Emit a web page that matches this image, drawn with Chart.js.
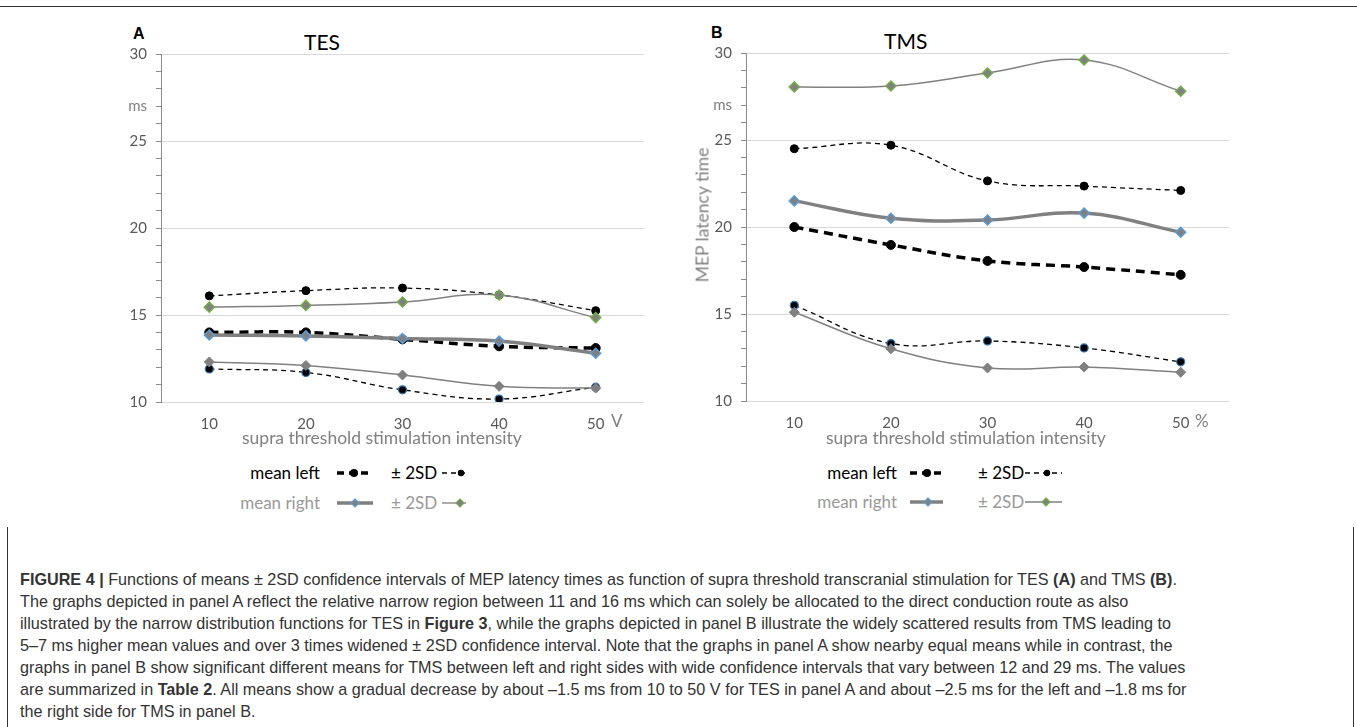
<!DOCTYPE html>
<html>
<head>
<meta charset="utf-8">
<script src="https://cdn.jsdelivr.net/npm/chart.js@4.4.0/dist/chart.umd.min.js"></script>
<style>
  body { margin: 0; width: 1357px; height: 727px; background: #fff; position: relative; overflow: hidden; font-family: Lato, sans-serif; }
  .abs { position: absolute; white-space: nowrap; }
  .panel { font-family: "Liberation Sans", Arial, sans-serif; font-weight: bold; font-size: 16px; color: #000; }
  .title { font-size: 21px; color: #000; }
  .axt { font-size: 17.5px; color: #808080; }
  .unit { font-size: 17px; color: #808080; }
  .lg { font-size: 17px; line-height: 20px; }
  .lg.dark { color: #000; }
  .lg.light { color: #999; }
  #caption { position: absolute; left: 20px; top: 568px; font-family: "Liberation Sans", Arial, sans-serif; font-size: 16.2px; line-height: 22px; color: #333; white-space: nowrap; }
  .rule { position: absolute; background: #333; }
</style>
</head>
<body>
<div class="rule" style="left:0; top:6px; width:1357px; height:1px;"></div>
<div class="rule" style="left:7px; top:527px; width:1px; height:200px;"></div>
<div class="rule" style="left:1353px; top:527px; width:1px; height:200px;"></div>

<div class="abs panel" style="left:133px; top:25px;">A</div>
<div class="abs title" style="left:304px; top:29px;">TES</div>
<div class="abs panel" style="left:711px; top:24px;">B</div>
<div class="abs title" style="left:884px; top:28px;">TMS</div>

<canvas id="tesChart" class="abs" style="left:90px; top:20px;" width="570" height="430"></canvas>
<canvas id="tmsChart" class="abs" style="left:670px; top:20px;" width="575" height="430"></canvas>

<div class="abs axt" style="left:242px; top:427px;">supra threshold stimulation intensity</div>
<div class="abs axt" style="left:826px; top:427px;">supra threshold stimulation intensity</div>
<div class="abs unit" style="left:611px; top:410px;">V</div>
<div class="abs unit" style="left:1195px; top:410px;">%</div>
<div class="abs axt" style="left:702px; top:215px; transform: translate(-50%, -50%) rotate(-90deg);">MEP latency time</div>

<div id="legends"></div>

<div id="caption">
  <div><b>FIGURE 4 |</b> Functions of means ± 2SD confidence intervals of MEP latency times as function of supra threshold transcranial stimulation for TES <b>(A)</b> and TMS <b>(B)</b>.</div>
  <div>The graphs depicted in panel A reflect the relative narrow region between 11 and 16 ms which can solely be allocated to the direct conduction route as also</div>
  <div>illustrated by the narrow distribution functions for TES in <b>Figure 3</b>, while the graphs depicted in panel B illustrate the widely scattered results from TMS leading to</div>
  <div>5–7 ms higher mean values and over 3 times widened ± 2SD confidence interval. Note that the graphs in panel A show nearby equal means while in contrast, the</div>
  <div>graphs in panel B show significant different means for TMS between left and right sides with wide confidence intervals that vary between 12 and 29 ms. The values</div>
  <div>are summarized in <b>Table 2</b>. All means show a gradual decrease by about –1.5 ms from 10 to 50 V for TES in panel A and about –2.5 ms for the left and –1.8 ms for</div>
  <div>the right side for TMS in panel B.</div>
</div>

<script>
const intensities = ["10", "20", "30", "40", "50"];

// TES (panel A), ms
const tesMeanLeft = [14.0, 14.0, 13.6, 13.2, 13.1];
const tesMeanRight = [13.85, 13.8, 13.65, 13.5, 12.8];
const tesUpperLeft = [16.1, 16.4, 16.55, 16.15, 15.25];
const tesLowerLeft = [11.9, 11.7, 10.7, 10.17, 10.85];
const tesUpperRight = [15.45, 15.55, 15.75, 16.15, 14.85];
const tesLowerRight = [12.3, 12.1, 11.55, 10.9, 10.8];

// TMS (panel B), ms
const tmsMeanLeft = [20.0, 18.97, 18.05, 17.7, 17.25];
const tmsMeanRight = [21.5, 20.5, 20.4, 20.8, 19.7];
const tmsUpperLeft = [24.5, 24.7, 22.65, 22.35, 22.1];
const tmsLowerLeft = [15.5, 13.3, 13.45, 13.05, 12.25];
const tmsUpperRight = [28.05, 28.1, 28.85, 29.6, 27.8];
const tmsLowerRight = [15.1, 13.0, 11.9, 11.95, 11.65];

const yMin = 10, yMax = 30;

function seriesSet(meanL, meanR, upL, loL, upR, loR) {
    // right side first so it is painted over the left side
    return [
        { label: "mean right", data: meanR, borderColor: "#808080", borderWidth: 3.5,
          pointStyle: "rectRot", pointRadius: 5, pointBackgroundColor: "#808080",
          pointBorderColor: "#5b9bd5", pointBorderWidth: 1.5 },
        { label: "+2SD right", data: upR, borderColor: "#808080", borderWidth: 1.5,
          pointStyle: "rectRot", pointRadius: 5, pointBackgroundColor: "#808080",
          pointBorderColor: "#70ad47", pointBorderWidth: 1.5 },
        { label: "-2SD right", data: loR, borderColor: "#808080", borderWidth: 1.5,
          pointStyle: "rectRot", pointRadius: 5, pointBackgroundColor: "#808080",
          pointBorderColor: "#808080", pointBorderWidth: 1 },
        { label: "mean left", data: meanL, borderColor: "#000", borderWidth: 3.5, borderDash: [9, 6],
          pointStyle: "circle", pointRadius: 4.5, pointBackgroundColor: "#000",
          pointBorderColor: "#000", pointBorderWidth: 1 },
        { label: "+2SD left", data: upL, borderColor: "#000", borderWidth: 1.3, borderDash: [5, 4],
          pointStyle: "circle", pointRadius: 4, pointBackgroundColor: "#000",
          pointBorderColor: "#000", pointBorderWidth: 1 },
        { label: "-2SD left", data: loL, borderColor: "#000", borderWidth: 1.3, borderDash: [5, 4],
          pointStyle: "circle", pointRadius: 4, pointBackgroundColor: "#000",
          pointBorderColor: "#2e75b6", pointBorderWidth: 1.2 }
    ];
}

function makeChart(id, datasets, yWidth, xHeight, padTop) {
    return new Chart(document.getElementById(id), {
        type: "line",
        data: { labels: intensities, datasets: datasets },
        options: {
            responsive: false,
            animation: false,
            layout: { padding: { top: padTop, right: 16, left: 0, bottom: 0 } },
            elements: { line: { tension: 0.4, fill: false } },
            plugins: { legend: { display: false }, tooltip: { enabled: false } },
            scales: {
                x: {
                    offset: true,
                    grid: { display: false, drawTicks: false },
                    border: { display: false },
                    ticks: { color: "#595959", padding: 13, font: { family: "Lato", size: 15 } },
                    afterFit: (s) => { s.height = xHeight; }
                },
                y: {
                    min: yMin, max: yMax,
                    grid: {
                        color: (c) => (c.tick && c.tick.value % 5 === 0) ? "#d9d9d9" : "rgba(0,0,0,0)",
                        tickColor: "#8c8c8c", tickLength: 5, drawTicks: true
                    },
                    border: { color: "#8c8c8c", width: 1 },
                    ticks: {
                        stepSize: 1, autoSkip: false, padding: 9,
                        color: (c) => (c.tick && c.tick.value === 27) ? "#808080" : "#595959",
                        font: { family: "Lato", size: 15 },
                        callback: (v) => v % 5 === 0 ? String(v) : (v === 27 ? "ms" : "")
                    },
                    afterFit: (s) => { s.width = yWidth; }
                }
            }
        }
    });
}

makeChart("tesChart", seriesSet(tesMeanLeft, tesMeanRight, tesUpperLeft, tesLowerLeft, tesUpperRight, tesLowerRight), 71, 48, 34);
makeChart("tmsChart", seriesSet(tmsMeanLeft, tmsMeanRight, tmsUpperLeft, tmsLowerLeft, tmsUpperRight, tmsLowerRight), 76, 49, 33);

// legend rows under each panel
function sample(kind, w, markerX) {
    const cy = 8;
    let line = "", mark = "";
    if (kind === "meanL") {
        line = `<line x1="0" y1="${cy}" x2="${w}" y2="${cy}" stroke="#000" stroke-width="3.5" stroke-dasharray="7,5"/>`;
        mark = `<circle cx="${markerX}" cy="${cy}" r="4" fill="#000"/>`;
    } else if (kind === "sdL") {
        line = `<line x1="0" y1="${cy}" x2="${w}" y2="${cy}" stroke="#000" stroke-width="1.5" stroke-dasharray="5,4"/>`;
        mark = `<circle cx="${markerX}" cy="${cy}" r="3.2" fill="#000"/>`;
    } else if (kind === "meanR") {
        line = `<line x1="0" y1="${cy}" x2="${w}" y2="${cy}" stroke="#808080" stroke-width="3.5"/>`;
        mark = `<polygon points="${markerX},${cy - 4} ${markerX + 4},${cy} ${markerX},${cy + 4} ${markerX - 4},${cy}" fill="#808080" stroke="#5b9bd5" stroke-width="1.2"/>`;
    } else {
        line = `<line x1="0" y1="${cy}" x2="${w}" y2="${cy}" stroke="#808080" stroke-width="1.3"/>`;
        mark = `<polygon points="${markerX},${cy - 4} ${markerX + 4},${cy} ${markerX},${cy + 4} ${markerX - 4},${cy}" fill="#808080" stroke="#70ad47" stroke-width="1.2"/>`;
    }
    return `<svg width="${w}" height="16" style="display:block">${line}${mark}</svg>`;
}

const legendRows = [
    // textRightEdge, y, text, cls, kind, sampleLeft, sampleWidth, markerX, then the same for the ± 2SD entry
    [320, 473, "mean left", "dark", "meanL", 337, 33, 17, 391, "± 2SD", "sdL", 442, 24, 19],
    [320, 503, "mean right", "light", "meanR", 337, 36, 18, 391, "± 2SD", "sdR", 442, 24, 18],
    [897, 473, "mean left", "dark", "meanL", 910, 33, 17, 978, "± 2SD", "sdL", 1025, 37, 22],
    [897, 502, "mean right", "light", "meanR", 910, 33, 18, 978, "± 2SD", "sdR", 1025, 37, 21]
];

const legendBox = document.getElementById("legends");
legendRows.forEach((r) => {
    const [right, y, text, cls, kind, sx, sw, mx, tx, text2, kind2, sx2, sw2, mx2] = r;
    legendBox.insertAdjacentHTML("beforeend",
        `<div class="abs lg ${cls}" style="right:${1357 - right}px; top:${y - 10}px;">${text}</div>` +
        `<div class="abs" style="left:${sx}px; top:${y - 8}px;">${sample(kind, sw, mx)}</div>` +
        `<div class="abs lg ${cls}" style="left:${tx}px; top:${y - 10}px;">${text2}</div>` +
        `<div class="abs" style="left:${sx2}px; top:${y - 8}px;">${sample(kind2, sw2, mx2)}</div>`);
});
</script>
</body>
</html>
